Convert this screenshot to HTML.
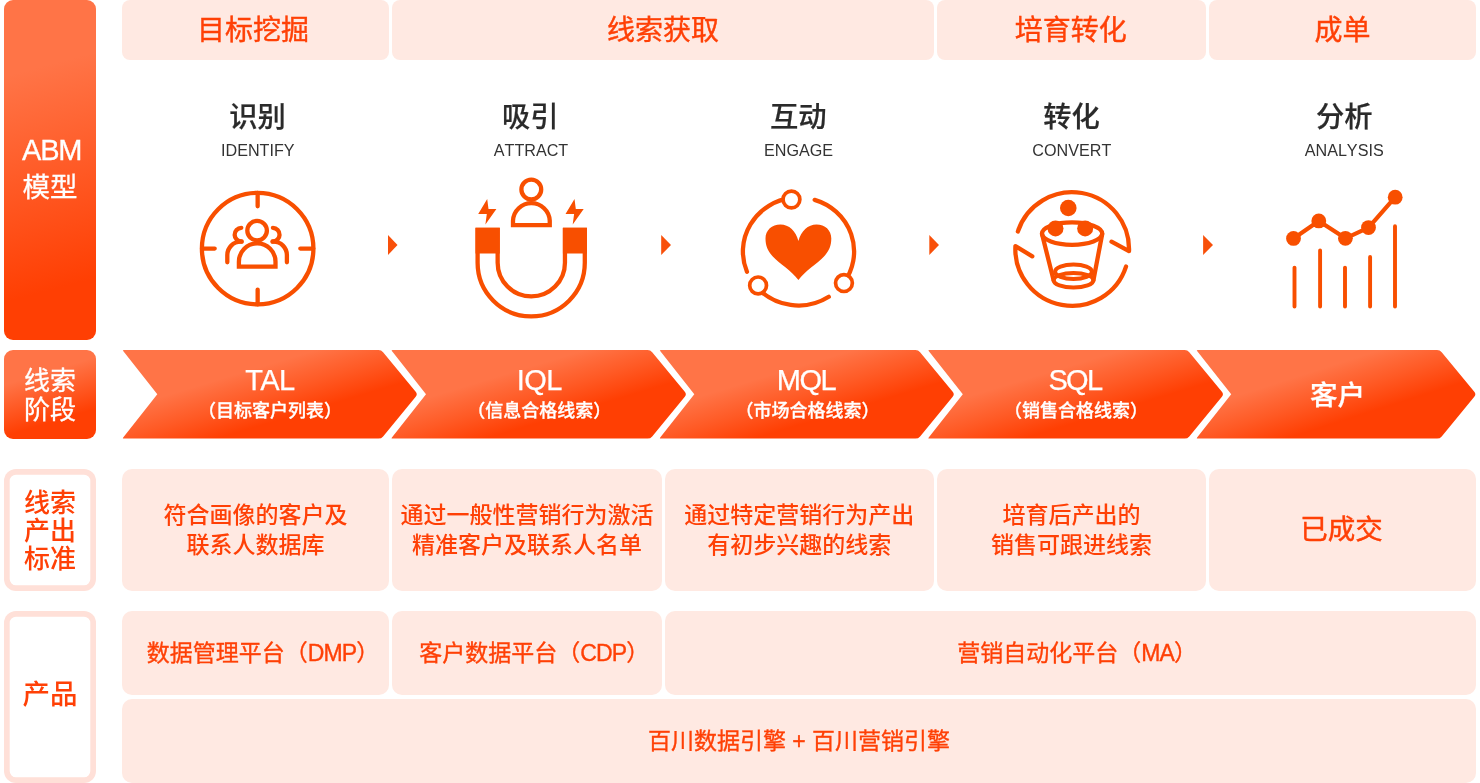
<!DOCTYPE html>
<html lang="zh-CN">
<head>
<meta charset="utf-8">
<title>ABM 模型</title>
<style>
html,body{margin:0;padding:0;background:#fff;}
body{width:1480px;height:783px;overflow:hidden;}
#root{will-change:transform;position:relative;width:1480px;height:783px;overflow:hidden;background:#fff;
  font-family:"Liberation Sans","Noto Sans CJK SC",sans-serif;color:#ff4006;}
#root div{position:absolute;box-sizing:border-box;white-space:nowrap;}
.pk{background:#ffe9e2;border-radius:9px;}
.hd{top:0;height:60px;border-radius:8px;font-size:28px;line-height:62.6px;-webkit-text-stroke:0.4px #ff4006;text-align:center;padding-top:0;}
.lg{left:4px;width:92px;border-radius:9px;color:#fff;text-align:center;}
.lo{left:4px;width:92px;box-shadow:inset 0 0 0 5.7px #ffe0d8;border-radius:12px;background:#fff;text-align:center;font-weight:500;}
.t1{width:200px;margin-left:-100px;text-align:center;color:#2a2a2a;font-size:28.3px;line-height:36px;font-weight:500;top:98.5px;-webkit-text-stroke:0.2px #2a2a2a;}
.t2{width:200px;margin-left:-100px;text-align:center;color:#333;font-size:16.15px;line-height:20px;top:139.8px;font-kerning:none;}
.a1{width:280px;margin-left:-140px;text-align:center;color:#fff;font-size:29px;line-height:34px;top:363px;letter-spacing:-0.5px;-webkit-text-stroke:0.25px #fff;}
.a2{width:280px;margin-left:-140px;text-align:center;color:#fff;font-size:18px;line-height:24px;top:399px;font-weight:500;-webkit-text-stroke:0.3px #fff;}
.r3{top:469px;height:122px;border-radius:10px;text-align:center;font-size:23px;line-height:30px;font-weight:500;padding-top:31px;}
.r4{top:611px;height:83.7px;border-radius:10px;text-align:center;font-size:23px;line-height:84px;-webkit-text-stroke:0.35px #ff4006;}
svg{position:absolute;left:0;top:0;}
</style>
</head>
<body>
<div id="root">

<!-- left labels -->
<div class="lg" style="top:0;height:340px;background:linear-gradient(165deg,#ff7447 21%,#ff3f03 83%);font-size:27.5px;line-height:37px;padding-top:132px;-webkit-text-stroke:0.3px #fff;"><span style="font-size:29px;letter-spacing:-1.2px;line-height:1;margin-left:3.4px;">ABM</span><br>模型</div>
<div class="lg" style="top:350px;height:88.6px;background:linear-gradient(163deg,#ff7447 30%,#ff5a25 52%,#ff3f03 74%);font-size:26px;line-height:29px;padding-top:17px;font-weight:400;-webkit-text-stroke:0.3px #fff;">线索<br>阶段</div>
<div class="lo" style="top:469px;height:122px;font-size:26px;line-height:28px;padding-top:19.8px;">线索<br>产出<br>标准</div>
<div class="lo" style="top:611px;height:172px;font-size:27.5px;line-height:28px;padding-top:69.5px;">产品</div>

<!-- header row -->
<div class="pk hd" style="left:122px;width:267px;padding-right:5px;">目标挖掘</div>
<div class="pk hd" style="left:392px;width:542px;">线索获取</div>
<div class="pk hd" style="left:937px;width:269px;padding-right:1.6px;">培育转化</div>
<div class="pk hd" style="left:1209px;width:267px;">成单</div>

<!-- stage titles -->
<div class="t1" style="left:257.5px;">识别</div><div class="t2" style="left:257.8px;">IDENTIFY</div>
<div class="t1" style="left:530.3px;">吸引</div><div class="t2" style="left:531px;">ATTRACT</div>
<div class="t1" style="left:798.3px;">互动</div><div class="t2" style="left:798.6px;">ENGAGE</div>
<div class="t1" style="left:1071.6px;">转化</div><div class="t2" style="left:1071.8px;">CONVERT</div>
<div class="t1" style="left:1344.3px;">分析</div><div class="t2" style="left:1344.2px;">ANALYSIS</div>

<!-- ARROWS + ICONS SVG -->
<svg width="1480" height="783" viewBox="0 0 1480 783">
<defs>
<linearGradient id="ag" x1="0" y1="0" x2="1" y2="1">
<stop offset="0.33" stop-color="#ff7447"/><stop offset="0.5" stop-color="#ff5a25"/><stop offset="0.66" stop-color="#ff3f03"/>
</linearGradient>
</defs>
<g id="arrows" fill="url(#ag)">
<path d="M123.2 351.1Q122.3 350.0 123.7 350.0L378.5 350.0Q381.3 350.0 383.1 352.2L415.7 391.8Q417.8 394.3 415.7 396.8L383.1 436.4Q381.3 438.6 378.5 438.6L123.7 438.6Q122.3 438.6 123.2 437.5L157.3 394.3Z"/>
<path d="M391.9 351.1Q391.0 350.0 392.4 350.0L647.6 350.0Q650.4 350.0 652.2 352.2L684.8 391.8Q686.9 394.3 684.8 396.8L652.2 436.4Q650.4 438.6 647.6 438.6L392.4 438.6Q391.0 438.6 391.9 437.5L426.0 394.3Z"/>
<path d="M660.2 351.1Q659.3 350.0 660.7 350.0L915.5 350.0Q918.3 350.0 920.1 352.2L952.7 391.8Q954.8 394.3 952.7 396.8L920.1 436.4Q918.3 438.6 915.5 438.6L660.7 438.6Q659.3 438.6 660.2 437.5L694.3 394.3Z"/>
<path d="M928.7 351.1Q927.8 350.0 929.2 350.0L1184.7 350.0Q1187.5 350.0 1189.3 352.2L1221.9 391.8Q1224.0 394.3 1221.9 396.8L1189.3 436.4Q1187.5 438.6 1184.7 438.6L929.2 438.6Q927.8 438.6 928.7 437.5L962.8 394.3Z"/>
<path d="M1197.1 351.1Q1196.2 350.0 1197.6 350.0L1437.1 350.0Q1439.9 350.0 1441.7 352.2L1474.3 391.8Q1476.4 394.3 1474.3 396.8L1441.7 436.4Q1439.9 438.6 1437.1 438.6L1197.6 438.6Q1196.2 438.6 1197.1 437.5L1231.2 394.3Z"/>
</g>
<g id="seps" fill="#f8500a">
<path d="M388 235L397.5 245L388 255Z"/><path d="M661.2 235L671 245L661.2 255Z"/><path d="M929.3 235L939 245L929.3 255Z"/><path d="M1203.1 235L1213 245L1203.1 255Z"/>
</g>
<!--ICONS-START-->
<g id="icons" fill="none" stroke="#f84f00" stroke-width="4.3" stroke-linecap="round" stroke-linejoin="miter">
<!-- icon 1: target with people -->
<circle cx="257.65" cy="248.6" r="55.75"/>
<path d="M257.65 192.8V206.3M257.65 289.6V304.4M202 248.6H214.7M300.3 248.6H313.3"/>
<circle cx="257.1" cy="230.6" r="9.8"/>
<path d="M238.9 266.6V261.7A18.3 18.3 0 0 1 275.5 261.7V266.6Z" stroke-linecap="butt"/>
<path d="M241.3 227.9A6.8 6.8 0 1 0 241.6 241.5"/>
<path d="M227.3 262.3V255.1A13.4 13.4 0 0 1 240.7 241.7H241.6"/>
<path d="M272.9 227.9A6.8 6.8 0 1 1 272.6 241.5"/>
<path d="M286.9 262.3V255.1A13.4 13.4 0 0 0 273.5 241.7H272.6"/>

<!-- icon 2: magnet -->
<circle cx="531.3" cy="189.6" r="9.9"/>
<path d="M513 225.05V220.6A18.4 18.4 0 0 1 549.75 220.6V225.05Z" stroke-linecap="butt"/>
<path d="M477.6 229.8V262.8A53.6 53.6 0 0 0 584.8 262.8V229.8H564.95V262.8A33.65 33.65 0 0 1 497.65 262.8V229.8Z" stroke-linecap="butt"/>
<path d="M475.5 227.7H499.8V253.4H475.5ZM562.9 227.7H586.9V253.4H562.9Z" fill="#f84f00" stroke="none"/>
<path id="bolt" d="M487.2 199L478.2 214H486.8L485.4 224.5L496.4 209.1H488.5Z" fill="#f84f00" stroke="none"/>
<path d="M574.5 199L565.5 214H574.1L572.7 224.5L583.7 209.1H575.8Z" fill="#f84f00" stroke="none"/>

<!-- icon 3: heart with ring -->
<path d="M814.66 199.83A55.6 54 0 0 1 843.71 282.93"/>
<path d="M756.41 286.78A55.6 54 0 0 0 828.78 296.79"/>
<path d="M791.24 197.96A55.6 54 0 0 0 746.95 271.73"/>
<g fill="#fff" stroke-width="3.7">
<circle cx="791.45" cy="199.5" r="8.4"/><circle cx="758.1" cy="285.4" r="8.4"/><circle cx="843.95" cy="283.1" r="8.4"/>
</g>
<path d="M798.4 240.9C801 231 808 224.4 816.5 224.4C825 224.4 831.3 230 831.3 238.5C831.3 246 829 251 824 256.5C818 263 805 271 798.4 280.1C791.8 271 778.8 263 772.8 256.5C767.8 251 765.5 246 765.5 238.5C765.5 230 772 224.4 780.4 224.4C789 224.4 796 231 798.4 240.9Z" fill="#f84f00" stroke="none"/>

<!-- icon 4: bucket with cycle arrows -->
<path d="M1017.84 231.54A57.00 57.00 0 0 1 1129.02 251.14L1111.5 241.65" stroke-linejoin="round"/>
<path d="M1032.3 256.3L1015.43 246.18A56.70 56.70 0 0 0 1126.01 266.58" stroke-linejoin="round"/>
<ellipse cx="1072.1" cy="233.6" rx="30.1" ry="11.2"/>
<path d="M1042 234L1053.6 280.3M1102.2 234L1093.4 280.3"/>
<ellipse cx="1073.5" cy="271.7" rx="18.4" ry="7.25" stroke-width="4.1"/>
<ellipse cx="1073.5" cy="280.3" rx="19.9" ry="7.25" stroke-width="4.1"/>
<g fill="#f84f00" stroke="none"><circle cx="1068.3" cy="208" r="8.3"/><circle cx="1055.5" cy="228.4" r="8"/><circle cx="1085.15" cy="228.4" r="8"/></g>

<!-- icon 5: chart -->
<path d="M1293.5 238.4L1318.8 220.9L1345.4 238.3L1368.5 227.6L1395.2 197.2" stroke-width="4.2" stroke-linejoin="round"/>
<g fill="#f84f00" stroke="none"><circle cx="1293.5" cy="238.4" r="7.4"/><circle cx="1318.8" cy="220.9" r="7.4"/><circle cx="1345.4" cy="238.3" r="7.4"/><circle cx="1368.5" cy="227.6" r="7.4"/><circle cx="1395.2" cy="197.2" r="7.4"/></g>
<path d="M1294.5 267.6V306.5M1320.1 250.4V306.5M1345 267.6V306.5M1370.1 256.9V306.5M1395 226.3V306.5" stroke-width="3.9"/>
</g>
<!--ICONS-END-->
</svg>

<!-- arrow texts -->
<div class="a1" style="left:270px;">TAL</div><div class="a2" style="left:270px;">（目标客户列表）</div>
<div class="a1" style="left:539.3px;">IQL</div><div class="a2" style="left:539.3px;">（信息合格线索）</div>
<div class="a1" style="left:806px;letter-spacing:-1.4px;">MQL</div><div class="a2" style="left:807.5px;">（市场合格线索）</div>
<div class="a1" style="left:1075px;letter-spacing:-1.6px;">SQL</div><div class="a2" style="left:1076px;">（销售合格线索）</div>
<div class="a1" style="left:1337.5px;top:377px;font-size:27.6px;line-height:38px;font-weight:500;letter-spacing:0;">客户</div>

<!-- row 3 -->
<div class="pk r3" style="left:122px;width:267px;">符合画像的客户及<br>联系人数据库</div>
<div class="pk r3" style="left:392px;width:270px;">通过一般性营销行为激活<br>精准客户及联系人名单</div>
<div class="pk r3" style="left:664.5px;width:269.5px;">通过特定营销行为产出<br>有初步兴趣的线索</div>
<div class="pk r3" style="left:937px;width:269px;">培育后产出的<br>销售可跟进线索</div>
<div class="pk r3" style="left:1209px;width:267px;font-size:27.5px;line-height:122px;padding-top:0;padding-right:2px;font-weight:400;-webkit-text-stroke:0.45px #ff4006;">已成交</div>

<!-- row 4 -->
<div class="pk r4" style="left:122px;width:267px;padding-left:15px;">数据管理平台（<span style="letter-spacing:-0.9px;">DMP</span>）</div>
<div class="pk r4" style="left:392px;width:270px;padding-left:14.4px;">客户数据平台（<span style="letter-spacing:-0.9px;">CDP</span>）</div>
<div class="pk r4" style="left:664.5px;width:811.5px;padding-left:13.6px;">营销自动化平台（<span style="letter-spacing:-0.9px;">MA</span>）</div>
<div class="pk r4" style="left:122px;width:1354px;top:698.8px;height:84.3px;line-height:84.4px;">百川数据引擎 + 百川营销引擎</div>

</div>
</body>
</html>
